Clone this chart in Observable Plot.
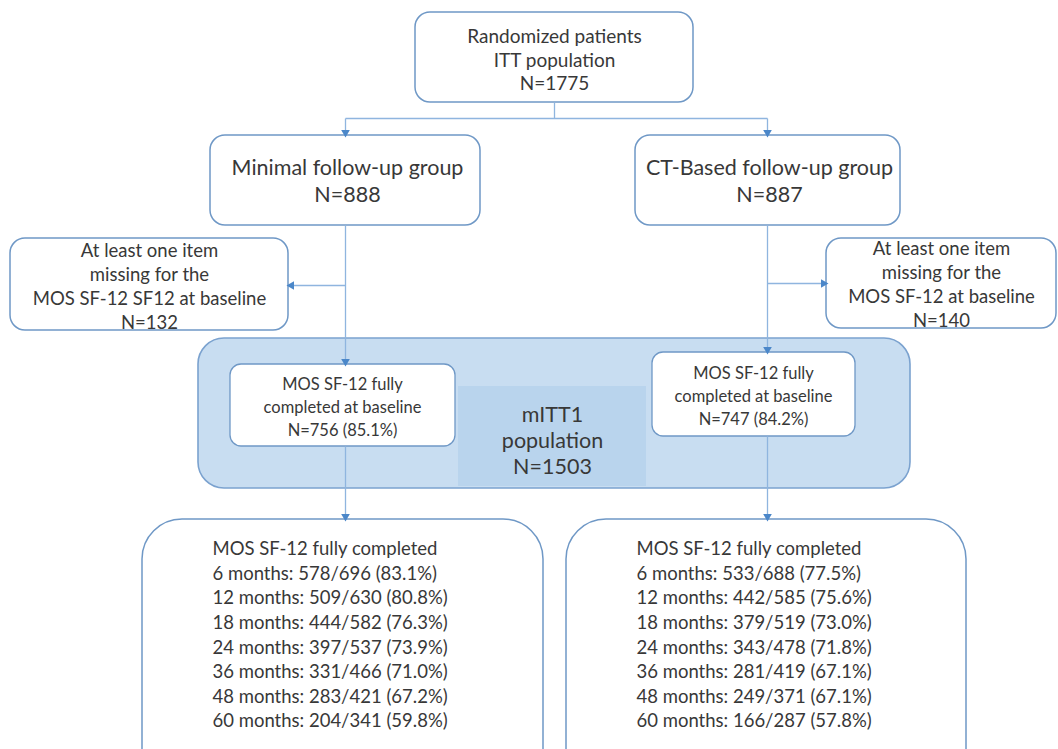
<!DOCTYPE html>
<html><head><meta charset="utf-8">
<script src="https://cdn.jsdelivr.net/npm/d3@7"></script>
<script src="https://cdn.jsdelivr.net/npm/@observablehq/plot@0.6"></script>
<style>body{margin:0;background:#fff;overflow:hidden;}</style>
</head><body><div id="chart"></div>
<script>
// ---- data ----
const ittN = 1775;
const groupNames = ["Minimal follow-up group", "CT-Based follow-up group"];
const groupN = [888, 887];
const missingLabel = ["MOS SF-12 SF12 at baseline", "MOS SF-12 at baseline"];
const missingN = [132, 140];
const baselineN = [756, 747];
const baselinePct = [85.1, 84.2];
const mittN = 1503;
const months = [6, 12, 18, 24, 36, 48, 60];
const minimalDone = [578, 509, 444, 397, 331, 283, 204];
const minimalDue = [696, 630, 582, 537, 466, 421, 341];
const minimalPct = [83.1, 80.8, 76.3, 73.9, 71.0, 67.2, 59.8];
const ctDone = [533, 442, 379, 343, 281, 249, 166];
const ctDue = [688, 585, 519, 478, 419, 371, 287];
const ctPct = [77.5, 75.6, 73.0, 71.8, 67.1, 67.1, 57.8];

// ---- layout (pixel space) ----
const W = 1058, H = 749;
const blue = "#6f98c6", lineBlue = "#8fb5df", headBlue = "#4b87c9", ink = "#383838";
const fix = v => v.toFixed(1);
const followText = (done, due, pct) =>
  ["MOS SF-12 fully completed"].concat(months.map((m, i) => `${m} months: ${done[i]}/${due[i]} (${fix(pct[i])}%)`)).join("\n");

const bigBox = [{x1: 198, x2: 910, y1: 338, y2: 488}];
const bigInner = [{x1: 458, x2: 646, y1: 386, y2: 486}];
const boxes = [
  {x1: 415, x2: 693, y1: 12, y2: 102},
  {x1: 210, x2: 480, y1: 135, y2: 225},
  {x1: 635, x2: 900, y1: 135, y2: 225},
  {x1: 10, x2: 288, y1: 238, y2: 330},
  {x1: 826, x2: 1056, y1: 238, y2: 328}
];
const innerBoxes = [
  {x1: 230, x2: 455, y1: 364, y2: 446},
  {x1: 652, x2: 855, y1: 352, y2: 436}
];
const bottomBoxes = [
  {x1: 142, x2: 543, y1: 519, y2: 790},
  {x1: 566, x2: 966, y1: 519, y2: 790}
];
const links = [
  {x1: 554, y1: 102, x2: 554, y2: 118},
  {x1: 345, y1: 118, x2: 767, y2: 118},
  {x1: 345, y1: 118, x2: 345, y2: 131},
  {x1: 767, y1: 118, x2: 767, y2: 131},
  {x1: 345, y1: 225, x2: 345, y2: 360},
  {x1: 345, y1: 285, x2: 292, y2: 285},
  {x1: 767, y1: 225, x2: 767, y2: 348},
  {x1: 767, y1: 283, x2: 822, y2: 283},
  {x1: 345, y1: 446, x2: 345, y2: 515},
  {x1: 767, y1: 436, x2: 767, y2: 515}
];
const heads = [
  {x: 345, y: 132, rot: 180}, {x: 767, y: 132, rot: 180},
  {x: 345, y: 361, rot: 180}, {x: 767, y: 349, rot: 180},
  {x: 291, y: 285, rot: -90}, {x: 823, y: 283, rot: 90},
  {x: 345, y: 516, rot: 180}, {x: 767, y: 516, rot: 180}
];

const texts = [
  {x: 554, y: 58.5, t: `Randomized patients\nITT population\nN=${ittN}`, fs: 19, lh: 1.24, a: "middle"},
  {x: 347, y: 179.5, t: `${groupNames[0]}\nN=${groupN[0]}`, fs: 21.5, lh: 1.26, a: "middle"},
  {x: 769, y: 179.5, t: `${groupNames[1]}\nN=${groupN[1]}`, fs: 21.5, lh: 1.26, a: "middle"},
  {x: 149, y: 284.5, t: `At least one item\nmissing for the\n${missingLabel[0]}\nN=${missingN[0]}`, fs: 18.5, lh: 1.3, a: "middle"},
  {x: 941, y: 283, t: `At least one item\nmissing for the\n${missingLabel[1]}\nN=${missingN[1]}`, fs: 18.5, lh: 1.3, a: "middle"},
  {x: 342, y: 405, t: `MOS SF-12 fully\ncompleted at baseline\nN=${baselineN[0]} (${fix(baselinePct[0])}%)`, fs: 16.5, lh: 1.4, a: "middle"},
  {x: 753, y: 394, t: `MOS SF-12 fully\ncompleted at baseline\nN=${baselineN[1]} (${fix(baselinePct[1])}%)`, fs: 16.5, lh: 1.4, a: "middle"},
  {x: 552, y: 439, t: `mITT1\npopulation\nN=${mittN}`, fs: 21.5, lh: 1.23, a: "middle"},
  {x: 212, y: 633, t: followText(minimalDone, minimalDue, minimalPct), fs: 18.5, lh: 1.33, a: "start"},
  {x: 636, y: 633, t: followText(ctDone, ctDue, ctPct), fs: 18.5, lh: 1.33, a: "start"}
];

const rectOpts = (data, o) => Plot.rect(data, {x1: "x1", x2: "x2", y1: "y1", y2: "y2", clip: true, ...o});

const marks = [
  rectOpts(bigBox, {fill: "#c8ddf1", stroke: "#7ba2cf", strokeWidth: 1.6, rx: 26}),
  rectOpts(bigInner, {fill: "#b9d4ed"}),
  rectOpts(boxes, {fill: "white", stroke: blue, strokeWidth: 1.5, rx: 15}),
  rectOpts(innerBoxes, {fill: "white", stroke: blue, strokeWidth: 1.3, rx: 11}),
  rectOpts(bottomBoxes, {fill: "white", stroke: blue, strokeWidth: 1.5, rx: 40}),
  Plot.link(links, {x1: "x1", y1: "y1", x2: "x2", y2: "y2", stroke: lineBlue, strokeWidth: 1.3}),
  Plot.dot(heads, {x: "x", y: "y", rotate: "rot", symbol: "triangle", r: 3.2, fill: headBlue, stroke: null})
];
for (const g of d3.groups(texts, d => `${d.fs}|${d.lh}|${d.a}`)) {
  const [fs, lh, a] = g[0].split("|");
  marks.push(Plot.text(g[1], {x: "x", y: "y", text: "t", fontSize: +fs, lineHeight: +lh, textAnchor: a, lineAnchor: "middle", fill: ink, fontFamily: "Lato"}));
}

const chart = Plot.plot({
  width: W, height: H, margin: 0,
  x: {domain: [0, W], range: [0, W], axis: null},
  y: {domain: [0, H], range: [0, H], axis: null},
  style: {fontFamily: "Lato", background: "white"},
  marks
});
document.getElementById("chart").append(chart);
</script>
</body></html>
